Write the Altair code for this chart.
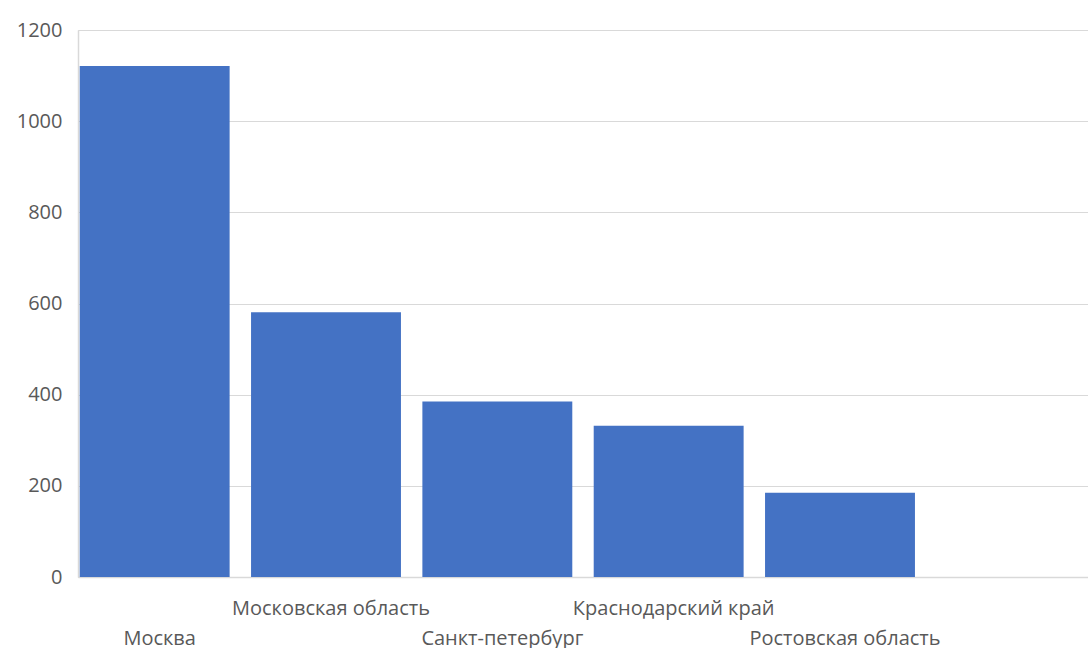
import altair as alt
import pandas as pd

regions = ["Москва", "Московская область", "Санкт-петербург", "Краснодарский край", "Ростовская область"]
values = [1121, 581, 385, 332, 185]
y_ticks = [0, 200, 400, 600, 800, 1000, 1200]
lower_row = ["Москва", "Санкт-петербург", "Ростовская область"]

df = pd.DataFrame({"region": regions, "value": values})
domain = regions + [" "]

label_expr = (
    "indexof(" + str(lower_row) + ", datum.value) >= 0 ? ['', datum.label] : datum.label"
)

chart = alt.Chart(df).mark_bar(color="#4472C4").encode(
    x=alt.X(
        "region:N",
        sort=None,
        scale=alt.Scale(domain=domain, paddingInner=0.125, paddingOuter=0.01),
        axis=alt.Axis(
            title=None,
            labelAngle=0,
            labelExpr=label_expr,
            labelLineHeight=30,
            labelPadding=21,
            labelOffset=5,
            labelFontSize=20,
            labelFont="Open Sans",
            labelColor="#595959",
            labelLimit=400,
            ticks=False,
            domainColor="#d9d9d9",
            domainWidth=1.5,
            labelOverlap=False,
            labelBaseline="top",
        ),
    ),
    y=alt.Y(
        "value:Q",
        scale=alt.Scale(domain=[0, 1200], nice=False),
        axis=alt.Axis(
            title=None,
            values=y_ticks,
            format="d",
            labelFontSize=20,
            labelFont="Open Sans",
            labelColor="#595959",
            labelPadding=16,
            ticks=False,
            domainColor="#d9d9d9",
            domainWidth=1.5,
            gridColor="#d9d9d9",
            gridWidth=1.2,
        ),
    ),
).properties(
    width=1010,
    height=547,
    autosize=alt.AutoSizeParams(type="none"),
    padding={"left": 78, "top": 30, "right": 0, "bottom": 71},
).configure_view(stroke=None).configure(background="white")

chart.save("out.html", embed_options={"renderer": "svg", "actions": False})
